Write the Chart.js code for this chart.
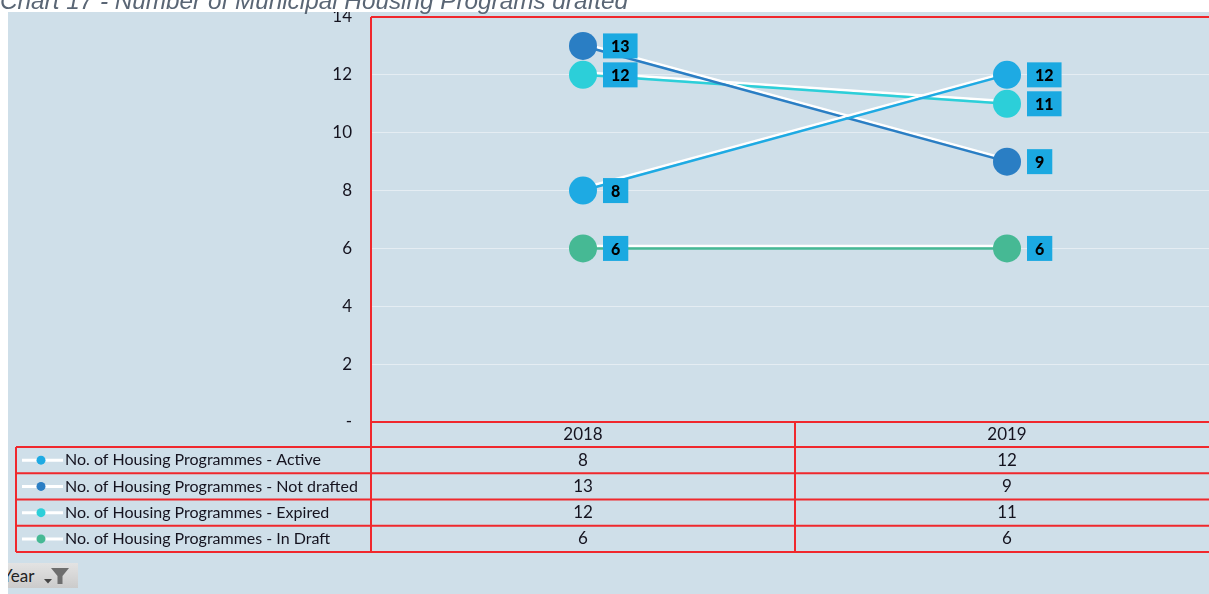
<!DOCTYPE html>
<html>
<head>
<meta charset="utf-8">
<script src="https://cdn.jsdelivr.net/npm/chart.js@4.4.1/dist/chart.umd.min.js"></script>
<style>
    html, body { margin: 0; padding: 0; width: 1209px; height: 594px; overflow: hidden; background: #fff; }
    #title { position: absolute; left: 0; top: -13px; font: italic 24.3px "Liberation Sans", Arial, sans-serif; color: #5a6675; white-space: nowrap; z-index: 2; }
    #panel { position: absolute; left: 8px; top: 12px; width: 1201px; height: 582px; background: #cfdfe9; overflow: hidden; }
    #wrap { position: absolute; left: -8px; top: -12px; width: 1240px; height: 594px; z-index: 1; }
    #filter { position: absolute; left: -10px; top: 551px; width: 80px; height: 25px; background: linear-gradient(#e3e3e3, #cbcbcb); font: 17px Lato, sans-serif; color: #222; }
    #filter span { position: absolute; left: 4px; top: 2px; }
    #filter svg { position: absolute; left: 44px; top: 3px; }
</style>
</head>
<body>
<div id="title">Chart 17 - Number of Municipal Housing Programs drafted</div>
<div id="panel">
    <div id="filter"><span>Year</span>
        <svg width="30" height="20" viewBox="0 0 30 20">
            <path d="M2 13 L10 13 L6 17.5 Z" fill="#444"/>
            <path d="M9 2 L27 2 L20.5 10 L20.5 18 L15.5 18 L15.5 10 Z" fill="#6e6e6e"/>
        </svg>
    </div>
    <div id="wrap"><canvas id="chart" width="1240" height="594"></canvas></div>
</div>
<script>
(() => {
    const years = ["2018", "2019"];
    const seriesNames = [
        "No. of Housing Programmes - Active",
        "No. of Housing Programmes - Not drafted",
        "No. of Housing Programmes - Expired",
        "No. of Housing Programmes - In Draft"
    ];
    const activeValues = [8, 12];
    const notDraftedValues = [13, 9];
    const expiredValues = [12, 11];
    const inDraftValues = [6, 6];
    const seriesColors = ["#1eaae3", "#2a7ec4", "#2ccfd9", "#46b994"];
    const yTicks = [0, 2, 4, 6, 8, 10, 12, 14];

    const seriesValues = [activeValues, notDraftedValues, expiredValues, inDraftValues];
    const red = "#f0282d";
    const textColor = "#15131f";

    const lineSets = seriesValues.map((values, i) => ({
        label: seriesNames[i],
        data: values,
        kind: "line",
        order: 1,
        borderColor: seriesColors[i],
        borderWidth: 2.5,
        pointRadius: 0,
        pointHoverRadius: 0
    }));

    const pointSets = seriesValues.map((values, i) => ({
        label: seriesNames[i],
        data: values,
        kind: "point",
        order: 0,
        showLine: false,
        pointRadius: 14,
        pointHoverRadius: 14,
        pointBackgroundColor: seriesColors[i],
        pointBorderWidth: 0
    }));

    // white highlight above every connecting line
    const lineGlow = {
        id: "lineGlow",
        beforeDatasetDraw(chart, args) {
            if (chart.data.datasets[args.index].kind !== "line") {
                return;
            }
            const ctx = chart.ctx;
            ctx.save();
            ctx.shadowColor = "#ffffff";
            ctx.shadowOffsetY = -2.5;
            ctx.shadowBlur = 0;
        },
        afterDatasetDraw(chart, args) {
            if (chart.data.datasets[args.index].kind === "line") {
                chart.ctx.restore();
            }
        }
    };

    const valueBoxes = {
        id: "valueBoxes",
        afterDatasetsDraw(chart) {
            const ctx = chart.ctx;
            ctx.save();
            ctx.font = "900 16px Lato, sans-serif";
            ctx.textAlign = "center";
            ctx.textBaseline = "middle";
            chart.data.datasets.forEach((ds, i) => {
                if (ds.kind !== "point") {
                    return;
                }
                chart.getDatasetMeta(i).data.forEach((pt, j) => {
                    const text = String(ds.data[j]);
                    const w = ctx.measureText(text).width + 16;
                    const left = pt.x + 20;
                    ctx.fillStyle = "#1ba9e1";
                    ctx.fillRect(left, pt.y - 12.5, w, 25);
                    ctx.fillStyle = "#000";
                    ctx.fillText(text, left + w / 2, pt.y + 1);
                });
            });
            ctx.restore();
        }
    };

    const dataTable = {
        id: "dataTable",
        afterDraw(chart) {
            const ctx = chart.ctx;
            const area = chart.chartArea;
            const x = chart.scales.x;
            const headerBottom = area.bottom + 25;
            const rowH = 26.25;
            const tableLeft = 16;
            const tableRight = chart.width;
            const tableBottom = headerBottom + rowH * seriesNames.length;
            const split = (x.getPixelForValue(0) + x.getPixelForValue(1)) / 2;

            ctx.save();
            ctx.strokeStyle = red;
            ctx.lineWidth = 2;
            ctx.beginPath();
            ctx.moveTo(area.left, area.top);
            ctx.lineTo(tableRight, area.top);
            ctx.moveTo(area.left, area.bottom);
            ctx.lineTo(tableRight, area.bottom);
            ctx.moveTo(area.left, area.top);
            ctx.lineTo(area.left, tableBottom);
            ctx.moveTo(split, area.bottom);
            ctx.lineTo(split, tableBottom);
            ctx.moveTo(tableLeft, headerBottom);
            ctx.lineTo(tableLeft, tableBottom);
            for (let r = 0; r <= seriesNames.length; r++) {
                const y = headerBottom + r * rowH;
                ctx.moveTo(tableLeft, y);
                ctx.lineTo(tableRight, y);
            }
            ctx.stroke();

            ctx.fillStyle = textColor;
            ctx.textAlign = "center";
            ctx.textBaseline = "middle";
            ctx.font = "17px Lato, sans-serif";
            years.forEach((year, i) => {
                ctx.fillText(year, x.getPixelForValue(i), area.bottom + 13);
            });

            seriesNames.forEach((name, r) => {
                const cy = headerBottom + r * rowH + rowH / 2;
                ctx.strokeStyle = "#ffffff";
                ctx.lineWidth = 3;
                ctx.beginPath();
                ctx.moveTo(22, cy);
                ctx.lineTo(63, cy);
                ctx.stroke();
                ctx.fillStyle = seriesColors[r];
                ctx.beginPath();
                ctx.arc(41, cy, 4.5, 0, Math.PI * 2);
                ctx.fill();

                ctx.fillStyle = textColor;
                ctx.textAlign = "left";
                ctx.font = "16px Lato, sans-serif";
                ctx.fillText(name, 65, cy);

                ctx.textAlign = "center";
                ctx.font = "17px Lato, sans-serif";
                seriesValues[r].forEach((v, i) => {
                    ctx.fillText(String(v), x.getPixelForValue(i), cy);
                });
            });
            ctx.restore();
        }
    };

    new Chart(document.getElementById("chart"), {
        type: "line",
        data: {
            labels: years,
            datasets: [...lineSets, ...pointSets]
        },
        options: {
            responsive: false,
            animation: false,
            events: [],
            layout: {
                padding: { left: 0, top: 17, right: 21, bottom: 172 }
            },
            scales: {
                x: {
                    type: "category",
                    offset: true,
                    display: false
                },
                y: {
                    min: 0,
                    max: 14,
                    afterBuildTicks: (scale) => {
                        scale.ticks = yTicks.map(v => ({ value: v }));
                    },
                    afterFit: (scale) => {
                        scale.width = 371;
                        scale.paddingTop = 0;
                        scale.paddingBottom = 0;
                    },
                    border: { display: false },
                    grid: {
                        drawTicks: false,
                        color: (ctx) => (ctx.tick && (ctx.tick.value === 0 || ctx.tick.value === 14))
                            ? "rgba(0,0,0,0)" : "rgba(255,255,255,0.45)"
                    },
                    ticks: {
                        padding: 19,
                        color: textColor,
                        font: { family: "Lato", size: 17 },
                        callback: (v) => (v === 0 ? "-" : String(v))
                    }
                }
            },
            plugins: {
                legend: { display: false },
                tooltip: { enabled: false }
            }
        },
        plugins: [lineGlow, valueBoxes, dataTable]
    });
})();
</script>
</body>
</html>
